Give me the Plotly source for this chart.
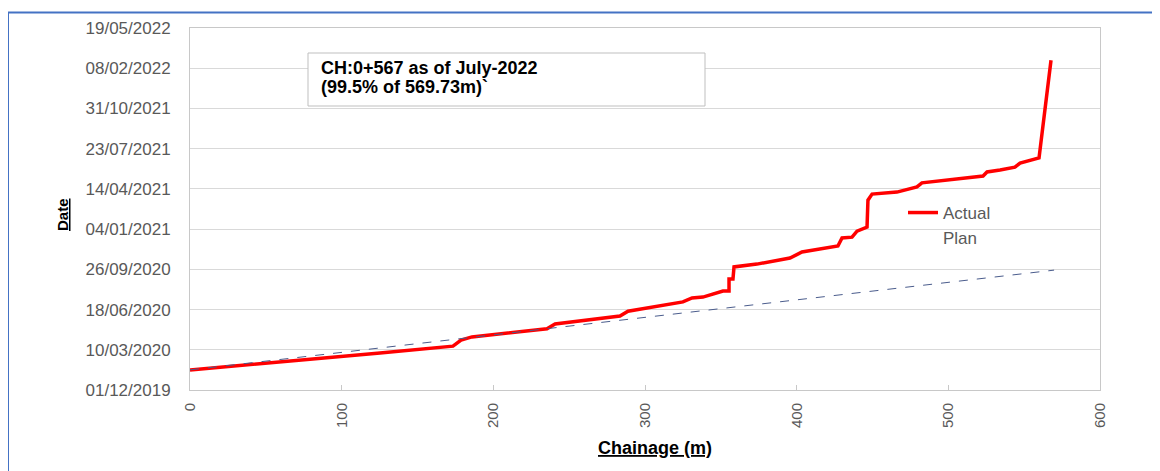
import plotly.graph_objects as go

# ---- data ----
actual_chainage = [0, 100.2, 125.3, 173.4, 178.7, 185.9, 235.4, 240.7, 257.1, 283.5,
                   288.8, 325.0, 331.0, 338.2, 351.4, 355.4, 355.4, 358.0, 358.7, 373.8,
                   395.6, 403.5, 427.2, 429.9, 436.5, 439.8, 446.4, 447.0, 449.7, 466.1,
                   479.3, 482.6, 522.9, 525.5, 534.1, 543.9, 547.3, 559.8, 567.7]
actual_date = ["2020-01-20", "2020-02-21", "2020-03-02", "2020-03-19", "2020-04-03",
               "2020-04-11", "2020-05-01", "2020-05-13", "2020-05-20", "2020-06-02",
               "2020-06-14", "2020-07-07", "2020-07-17", "2020-07-19", "2020-08-03",
               "2020-08-03", "2020-09-02", "2020-09-02", "2020-10-02", "2020-10-09",
               "2020-10-24", "2020-11-08", "2020-11-23", "2020-12-13", "2020-12-15",
               "2020-12-30", "2021-01-09", "2021-03-17", "2021-04-01", "2021-04-06",
               "2021-04-19", "2021-04-29", "2021-05-16", "2021-05-26", "2021-05-31",
               "2021-06-07", "2021-06-17", "2021-06-30", "2022-02-28"]

plan_chainage = [0, 569.73]
plan_date = ["2020-01-20", "2020-09-24"]

y_tick_dates = ["2019-12-01", "2020-03-10", "2020-06-18", "2020-09-26", "2021-01-04",
                "2021-04-14", "2021-07-23", "2021-10-31", "2022-02-08", "2022-05-19"]
x_ticks = [0, 100, 200, 300, 400, 500, 600]

FONT = "Arial, 'Liberation Sans', sans-serif"
GREY = "#595959"

fig = go.Figure()
fig.add_trace(go.Scatter(x=actual_chainage, y=actual_date, mode="lines", name="Actual",
                         line=dict(color="#FF0000", width=3.5)))
fig.add_trace(go.Scatter(x=plan_chainage, y=plan_date, mode="lines", name="Plan",
                         line=dict(color="#4A5C8C", width=1, dash="dash"),
                         showlegend=False, legendgroup="plan"))
# legend entry for Plan (the reference shows no visible sample)
fig.add_trace(go.Scatter(x=[None], y=[None], mode="lines", name="Plan",
                         line=dict(color="rgba(0,0,0,0)", width=1), legendgroup="plan"))

fig.update_layout(
    width=1152, height=463,
    margin=dict(l=182, r=60, t=20, b=81),
    paper_bgcolor="white", plot_bgcolor="white",
    font=dict(family=FONT, color=GREY),
    showlegend=True,
    legend=dict(x=(903 - 190) / 910, y=(390 - 195) / 362, xanchor="left", yanchor="top",
                bgcolor="rgba(0,0,0,0)", font=dict(size=17, color=GREY),
                itemwidth=30, tracegroupgap=0),
    xaxis=dict(range=[0, 600], tickvals=x_ticks, tickangle=-90,
               showgrid=False, zeroline=False,
               showline=True, linecolor="#C8C8C8", linewidth=1, mirror=True,
               ticks="inside", ticklen=5, tickcolor="#C8C8C8",
               ticklabelstandoff=6,
               tickfont=dict(size=15, color=GREY, family=FONT)),
    yaxis=dict(type="date", range=["2019-12-01", "2022-05-19"],
               tickvals=y_tick_dates, tickformat="%d/%m/%Y",
               showgrid=True, gridcolor="#D9D9D9", gridwidth=1, zeroline=False,
               showline=True, linecolor="#C8C8C8", linewidth=1, mirror=True,
               ticks="", ticklabelstandoff=15,
               tickfont=dict(size=17, color=GREY, family=FONT)),
    shapes=[
        # outer blue frame
        dict(type="rect", xref="paper", yref="paper",
             x0=(8 - 190) / 910, x1=(1157 - 190) / 910,
             y0=(390 - 12.5) / 362, y1=(390 - 500) / 362,
             line=dict(color="#4472C4", width=2), fillcolor="rgba(0,0,0,0)", layer="below"),
        # annotation box
        dict(type="rect", xref="paper", yref="paper",
             x0=(308 - 190) / 910, x1=(705 - 190) / 910,
             y0=(390 - 53) / 362, y1=(390 - 106) / 362,
             line=dict(color="#BFBFBF", width=1), fillcolor="white", layer="above"),
    ],
    annotations=[
        dict(text="<b>CH:0+567 as of July-2022</b>", xref="paper", yref="paper",
             x=(319 - 190) / 910, y=(390 - 68) / 362, xanchor="left", yanchor="middle",
             showarrow=False, font=dict(size=18, color="black", family=FONT)),
        dict(text="<b>(99.5% of 569.73m)`</b>", xref="paper", yref="paper",
             x=(319 - 190) / 910, y=(390 - 87) / 362, xanchor="left", yanchor="middle",
             showarrow=False, font=dict(size=18, color="black", family=FONT)),
        dict(text="<b><u>Date</u></b>", xref="paper", yref="paper",
             x=(62 - 190) / 910, y=(390 - 215) / 362, xanchor="center", yanchor="middle",
             textangle=-90, showarrow=False, font=dict(size=15, color="black", family=FONT)),
        dict(text="<b><u>Chainage (m)</u></b>", xref="paper", yref="paper",
             x=(655 - 190) / 910, y=(390 - 448) / 362, xanchor="center", yanchor="middle",
             showarrow=False, font=dict(size=18, color="black", family=FONT)),
    ],
)

fig.write_html("out.html")
